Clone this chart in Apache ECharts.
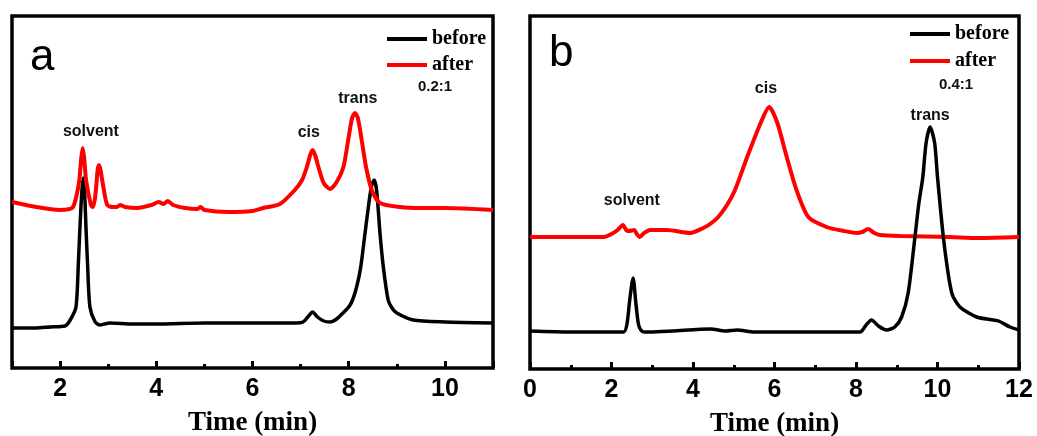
<!DOCTYPE html>
<html>
<head>
<meta charset="utf-8">
<script src="https://cdn.jsdelivr.net/npm/echarts@6/dist/echarts.min.js"></script>
<style>
  html, body { margin: 0; padding: 0; background: #fff; }
  #main { width: 1037px; height: 436px; }
</style>
</head>
<body>
<div id="main"></div>
<script>
// panel a: ratio 0.2:1
var aBeforeTime = [1.0, 1.5, 1.79, 2.1, 2.21, 2.33, 2.38, 2.41, 2.45, 2.48, 2.51, 2.54, 2.57, 2.62, 2.73, 2.83, 2.92, 3.04, 3.5, 4.0, 5.0, 6.0, 6.57, 6.9, 7.05, 7.15, 7.25, 7.35, 7.48, 7.61, 7.75, 7.88, 8.0, 8.08, 8.17, 8.25, 8.34, 8.42, 8.48, 8.53, 8.58, 8.65, 8.72, 8.82, 8.90, 9.0, 9.34, 10.0, 11.0]
var aBeforeVal  = [40, 40, 41, 42, 48, 61, 105, 138, 175, 190, 175, 138, 105, 61, 46, 43, 44, 45, 44, 44, 45, 45, 45, 45, 46, 51, 56, 51, 47, 46, 49, 55, 61, 68, 82, 101, 135, 165, 183, 188, 178, 135, 101, 68, 60, 55, 48, 46, 45]
var aAfterTime = [1.0, 1.5, 2.0, 2.2, 2.27, 2.34, 2.40, 2.44, 2.47, 2.50, 2.54, 2.64, 2.68, 2.72, 2.75, 2.78, 2.81, 2.84, 2.90, 2.98, 3.1, 3.18, 3.25, 3.35, 3.6, 3.9, 4.05, 4.15, 4.24, 4.35, 4.6, 4.85, 4.92, 5.0, 5.5, 6.0, 6.22, 6.57, 6.88, 7.03, 7.13, 7.20, 7.25, 7.30, 7.37, 7.48, 7.61, 7.75, 7.89, 7.99, 8.07, 8.13, 8.19, 8.27, 8.36, 8.48, 8.65, 9.07, 9.48, 10.0, 11.0]
var aAfterVal  = [166, 161, 158, 159, 161, 172, 188, 210, 220, 210, 188, 163, 161, 168, 181, 198, 203, 198, 181, 163, 161, 161, 163, 161, 160, 163, 166, 164, 167, 163, 160, 159, 161, 158, 156, 157, 160, 164, 178, 188, 201, 213, 218, 213, 201, 185, 179, 186, 201, 228, 250, 255, 250, 228, 201, 178, 165, 161, 160, 160, 158]

// panel b: ratio 0.4:1
var bBeforeTime = [0, 1.0, 2.0, 2.30, 2.38, 2.45, 2.53, 2.60, 2.66, 2.72, 2.80, 2.95, 3.5, 4.43, 4.8, 5.08, 5.5, 6.5, 7.5, 8.10, 8.25, 8.38, 8.55, 8.75, 8.95, 9.12, 9.28, 9.43, 9.54, 9.64, 9.72, 9.82, 9.93, 10.0, 10.16, 10.35, 10.55, 10.96, 11.37, 11.5, 11.78, 12.0]
var bBeforeVal  = [38, 37, 37, 37, 45, 70, 91, 65, 45, 39, 37, 37, 38, 40, 38, 39, 37, 37, 37, 37, 44, 49, 43, 39, 42, 52, 76, 126, 165, 192, 226, 242, 226, 192, 126, 76, 62, 52, 49, 48, 42, 39]
var bAfterTime = [0, 1.0, 1.81, 2.0, 2.15, 2.28, 2.36, 2.42, 2.56, 2.62, 2.69, 2.80, 2.95, 3.36, 3.93, 4.25, 4.42, 4.62, 4.85, 5.03, 5.33, 5.66, 5.87, 6.07, 6.30, 6.54, 6.83, 7.28, 7.7, 8.02, 8.15, 8.30, 8.45, 8.59, 9.09, 10.3, 11.0, 12.0]
var bAfterVal  = [132, 132, 132, 135, 139, 144, 139, 138, 139, 135, 132, 136, 139, 139, 136, 141, 145, 152, 165, 179, 212, 246, 262, 246, 212, 179, 152, 142, 138, 136, 137, 140, 136, 134, 133, 132, 131, 132]

// peak labels [time, value, text]
var aPeaks = [[2.64, 236, 'solvent'], [7.17, 235, 'cis'], [8.19, 269, 'trans']]
var bPeaks = [[5.79, 280, 'cis'], [2.50, 168, 'solvent'], [9.82, 253, 'trans']]

function pairs(t, v) {
  return t.map(function (x, i) { return [x, v[i]] })
}

function peakMarks(list) {
  return {
    symbol: 'circle',
    symbolSize: 0,
    silent: true,
    label: {
      show: true, position: 'inside', formatter: '{b}',
      color: '#111', fontFamily: 'Liberation Sans', fontWeight: 'bold', fontSize: 16
    },
    data: list.map(function (p) { return { name: p[2], coord: [p[0], p[1]] } })
  }
}

function main() {
  var myChart = echarts.init(document.getElementById('main'))
  var lbl = { color: '#000', fontFamily: 'Liberation Sans', fontWeight: 'bold', fontSize: 25, margin: 9 }
  var nameStyle = { color: '#000', fontFamily: 'Liberation Serif', fontWeight: 'bold', fontSize: 27 }
  var legendText = { color: '#000', fontFamily: 'Liberation Serif', fontWeight: 'bold', fontSize: 20 }
  var option = {
    animation: false,
    backgroundColor: '#fff',
    grid: [
      { left: 12, top: 16, width: 481, height: 352, show: true, borderColor: '#000', borderWidth: 3.5, outerBoundsMode: 'none', containLabel: false },
      { left: 530, top: 16, width: 489, height: 353, show: true, borderColor: '#000', borderWidth: 3.5, outerBoundsMode: 'none', containLabel: false }
    ],
    xAxis: [
      {
        gridIndex: 0, type: 'value', min: 1, max: 11, splitNumber: 5,
        name: 'Time (min)', nameLocation: 'middle', nameGap: 42, nameTextStyle: nameStyle,
        axisLine: { show: false },
        axisTick: { show: true, inside: true, length: 7, lineStyle: { color: '#000', width: 3 } },
        axisLabel: Object.assign({}, lbl, { formatter: function (v) { return v % 2 === 0 ? v : '' } }),
        splitLine: { show: false }
      },
      {
        gridIndex: 0, type: 'value', min: 1, max: 11, interval: 1, position: 'bottom',
        axisLine: { show: false },
        axisTick: { show: true, inside: true, length: 4, lineStyle: { color: '#000', width: 3 } },
        axisLabel: { show: false },
        splitLine: { show: false }
      },
      {
        gridIndex: 1, type: 'value', min: 0, max: 12, interval: 2,
        name: 'Time (min)', nameLocation: 'middle', nameGap: 42, nameTextStyle: nameStyle,
        axisLine: { show: false },
        axisTick: { show: true, inside: true, length: 7, lineStyle: { color: '#000', width: 3 } },
        minorTick: { show: true, splitNumber: 2, length: 4, lineStyle: { color: '#000', width: 3 } },
        axisLabel: lbl,
        splitLine: { show: false }
      }
    ],
    yAxis: [
      { gridIndex: 0, type: 'value', min: 0, max: 352, show: false },
      { gridIndex: 1, type: 'value', min: 0, max: 353, show: false }
    ],
    legend: [
      {
        orient: 'vertical', left: 382, top: 24, itemGap: 6, itemWidth: 40, itemHeight: 4,
        icon: 'rect', textStyle: legendText, data: ['before', 'after']
      },
      {
        orient: 'vertical', left: 905, top: 19, itemGap: 7, itemWidth: 40, itemHeight: 4,
        icon: 'rect', textStyle: legendText, data: ['before', 'after']
      }
    ],
    graphic: [
      { type: 'text', left: 30, top: 36, style: { text: 'a', fontSize: 44, fontFamily: 'Liberation Sans', fill: '#000' } },
      { type: 'text', left: 549, top: 32, style: { text: 'b', fontSize: 44, fontFamily: 'Liberation Sans', fill: '#000' } },
      { type: 'text', left: 418, top: 79, style: { text: '0.2:1', fontSize: 15, fontWeight: 'bold', fontFamily: 'Liberation Sans', fill: '#111' } },
      { type: 'text', left: 939, top: 77, style: { text: '0.4:1', fontSize: 15, fontWeight: 'bold', fontFamily: 'Liberation Sans', fill: '#111' } }
    ],
    series: [
      {
        name: 'before', type: 'line', xAxisIndex: 0, yAxisIndex: 0, data: pairs(aBeforeTime, aBeforeVal),
        showSymbol: false, smooth: 0.25, color: '#000', lineStyle: { width: 3.5, color: '#000' }, z: 3
      },
      {
        name: 'after', type: 'line', xAxisIndex: 0, yAxisIndex: 0, data: pairs(aAfterTime, aAfterVal),
        showSymbol: false, smooth: 0.25, color: '#ff0000', lineStyle: { width: 4, color: '#ff0000' }, z: 4,
        markPoint: peakMarks(aPeaks)
      },
      {
        name: 'before', type: 'line', xAxisIndex: 2, yAxisIndex: 1, data: pairs(bBeforeTime, bBeforeVal),
        showSymbol: false, smooth: 0.25, color: '#000', lineStyle: { width: 3.5, color: '#000' }, z: 4
      },
      {
        name: 'after', type: 'line', xAxisIndex: 2, yAxisIndex: 1, data: pairs(bAfterTime, bAfterVal),
        showSymbol: false, smooth: 0.25, color: '#ff0000', lineStyle: { width: 4, color: '#ff0000' }, z: 3,
        markPoint: peakMarks(bPeaks)
      }
    ]
  }
  myChart.setOption(option)
}

window.onload = main
</script>
</body>
</html>
